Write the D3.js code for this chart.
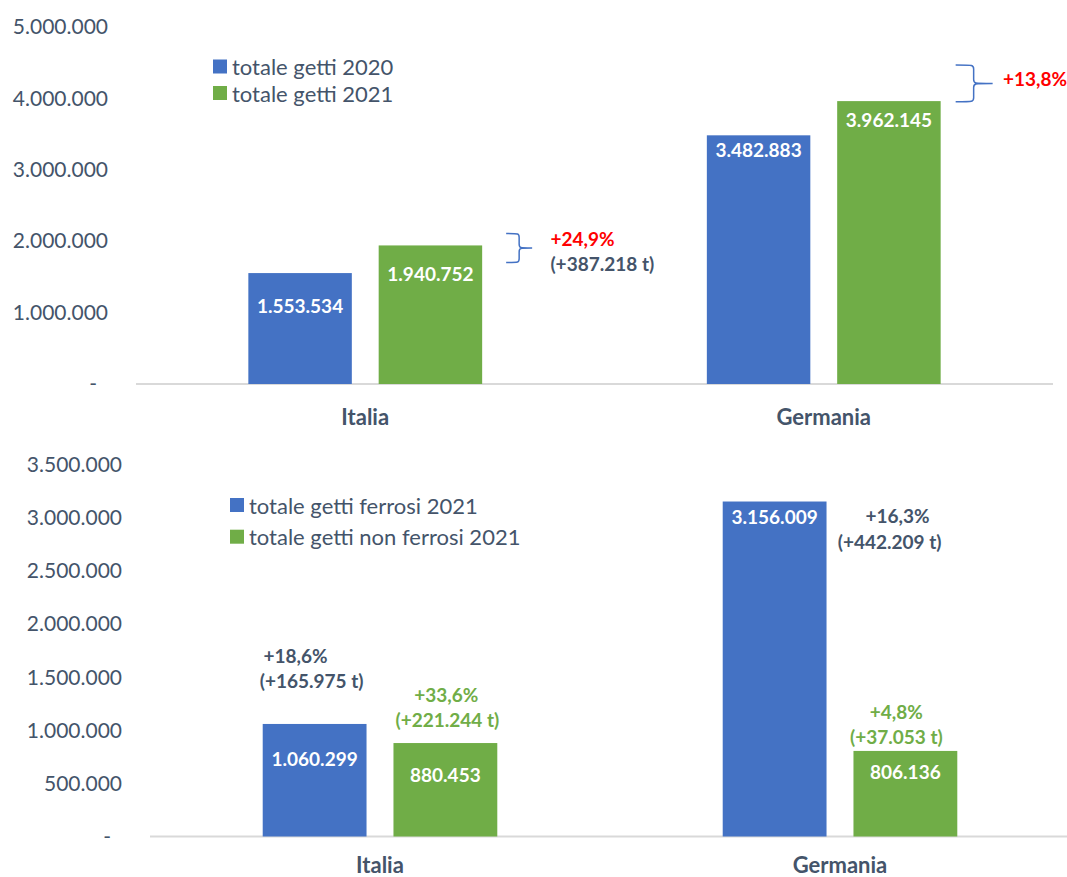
<!DOCTYPE html>
<html>
<head>
<meta charset="utf-8">
<script src="https://cdn.jsdelivr.net/npm/d3@7"></script>
<style>
  body { margin: 0; background: #fff; }
  svg { display: block; font-family: Lato, "Open Sans", sans-serif; }
</style>
</head>
<body>
<svg id="chart" width="1067" height="877"></svg>
<script>
// categories / series / values
var paesi = ["Italia", "Germania"];

var serieTop = ["totale getti 2020", "totale getti 2021"];
var getti2020 = [1553534, 3482883];
var getti2021 = [1940752, 3962145];

var serieBottom = ["totale getti ferrosi 2021", "totale getti non ferrosi 2021"];
var ferrosi2021 = [1060299, 3156009];
var nonFerrosi2021 = [880453, 806136];

var ticksTop = [0, 1000000, 2000000, 3000000, 4000000, 5000000];
var ticksBottom = [0, 500000, 1000000, 1500000, 2000000, 2500000, 3000000, 3500000];

var BLUE = "#4472C4", GREEN = "#70AD47", TEXT = "#44546A", RED = "#FF0000";
var colori = [BLUE, GREEN];

var locale = d3.formatLocale({ decimal: ",", thousands: ".", grouping: [3], currency: ["€", ""] });
var fmt = locale.format(",d");

var svg = d3.select("#chart");

function drawPanel(opt) {
  var g = svg.append("g");
  var x = d3.scaleBand().domain(paesi).range(opt.xRange);
  var xs = d3.scaleBand().domain([0, 1]).range([0, x.bandwidth()])
    .paddingInner(0.206).paddingOuter(0.862);
  var y = d3.scaleLinear().domain(opt.yDomain).range(opt.yRange);

  // y axis (no line, no ticks)
  var yAxis = d3.axisLeft(y).tickValues(opt.ticks).tickSize(0).tickPadding(28)
    .tickFormat(function (d) { return d === 0 ? "-" : fmt(d); });
  var ax = g.append("g")
    .attr("transform", "translate(" + opt.xRange[0] + ",0)")
    .call(yAxis);
  ax.select(".domain").remove();
  ax.selectAll("text")
    .attr("fill", TEXT)
    .style("font-size", "21px")
    .style("font-family", "Lato")
    .attr("dx", function (d) { return d === 0 ? -11 : 0; });

  // baseline
  g.append("line")
    .attr("x1", opt.xRange[0]).attr("x2", opt.xRange[1])
    .attr("y1", y(0)).attr("y2", y(0))
    .attr("stroke", "#D9D9D9").attr("stroke-width", 2);

  // bars
  var rows = [];
  paesi.forEach(function (p, i) {
    opt.values.forEach(function (serie, s) {
      rows.push({ p: p, i: i, s: s, v: serie[i] });
    });
  });

  function bx(d) { return x(d.p) + xs(d.s); }

  g.selectAll("rect.bar")
    .data(rows)
    .enter().append("rect")
    .attr("class", "bar")
    .attr("x", bx)
    .attr("width", xs.bandwidth())
    .attr("y", function (d) { return y(d.v); })
    .attr("height", function (d) { return y(0) - y(d.v); })
    .attr("fill", function (d) { return colori[d.s]; });

  // value labels inside bars
  g.selectAll("text.val")
    .data(rows)
    .enter().append("text")
    .attr("class", "val")
    .attr("x", function (d) { return bx(d) + xs.bandwidth() / 2; })
    .attr("y", function (d) { return y(d.v) + opt.labelDy[d.i][d.s]; })
    .attr("text-anchor", "middle")
    .attr("dominant-baseline", "central")
    .attr("fill", "#fff")
    .style("font-weight", "bold")
    .style("font-size", "19px")
    .text(function (d) { return fmt(d.v); });

  // category labels
  g.selectAll("text.cat")
    .data(paesi)
    .enter().append("text")
    .attr("class", "cat")
    .attr("x", function (d) { return x(d) + x.bandwidth() / 2; })
    .attr("y", y(0) + opt.catDy)
    .attr("text-anchor", "middle")
    .attr("dominant-baseline", "central")
    .attr("fill", TEXT)
    .style("font-weight", "bold")
    .style("font-size", "22px")
    .text(function (d) { return d; });

  // legend
  var leg = g.selectAll("g.leg")
    .data(opt.serie)
    .enter().append("g")
    .attr("class", "leg")
    .attr("transform", function (d, i) {
      return "translate(" + opt.legend.x + "," + (opt.legend.y + i * opt.legend.step) + ")";
    });
  leg.append("rect")
    .attr("x", 0).attr("y", -7).attr("width", 14).attr("height", 14)
    .attr("fill", function (d, i) { return colori[i]; });
  leg.append("text")
    .attr("x", 19)
    .attr("dominant-baseline", "central")
    .attr("fill", TEXT)
    .style("font-size", "22px")
    .text(function (d) { return d; });

  // annotations (text lines anchored on a bar)
  function barOf(a) {
    var d = rows.filter(function (r) { return r.i === a.i && r.s === a.s; })[0];
    return { cx: bx(d) + xs.bandwidth() / 2, top: y(d.v), right: bx(d) + xs.bandwidth() };
  }
  (opt.notes || []).forEach(function (a) {
    var b = barOf(a);
    a.lines.forEach(function (l) {
      g.append("text")
        .attr("x", b.cx + l.dx)
        .attr("y", b.top + l.dy)
        .attr("text-anchor", a.anchor)
        .attr("dominant-baseline", "central")
        .attr("fill", l.color)
        .style("font-weight", "bold")
        .style("font-size", "19px")
        .text(l.t);
    });
  });

  // curly brackets
  (opt.braces || []).forEach(function (a) {
    var b = barOf(a);
    var x0 = b.right + a.dx, x1 = x0 + a.w1, x2 = x0 + a.w2;
    var y0 = b.top + a.dy0, y1 = b.top + a.dy1, ym = (y0 + y1) / 2;
    var r = 4;
    var path = "M" + x0 + "," + y0 +
      " C" + x1 + "," + y0 + " " + x1 + "," + y0 + " " + x1 + "," + (y0 + r) +
      " L" + x1 + "," + (ym - r) +
      " C" + x1 + "," + ym + " " + x1 + "," + ym + " " + x2 + "," + ym +
      " M" + x2 + "," + ym +
      " C" + x1 + "," + ym + " " + x1 + "," + ym + " " + x1 + "," + (ym + r) +
      " L" + x1 + "," + (y1 - r) +
      " C" + x1 + "," + y1 + " " + x1 + "," + y1 + " " + x0 + "," + y1;
    g.append("path")
      .attr("d", path)
      .attr("fill", "none")
      .attr("stroke", BLUE)
      .attr("stroke-width", 1.5);
  });
}

// top panel: 2020 vs 2021
drawPanel({
  xRange: [136, 1053],
  yDomain: [0, 5000000],
  yRange: [384, 27],
  ticks: ticksTop,
  values: [getti2020, getti2021],
  serie: serieTop,
  labelDy: [[32, 28], [14, 18]],
  catDy: 32,
  legend: { x: 213, y: 66.5, step: 26.5 },
  notes: [
    { i: 0, s: 1, anchor: "start", lines: [
      { t: "+24,9%", dx: 120, dy: -6.5, color: RED },
      { t: "(+387.218 t)", dx: 120, dy: 18, color: TEXT }] },
    { i: 1, s: 1, anchor: "start", lines: [
      { t: "+13,8%", dx: 114, dy: -22.5, color: RED }] }
  ],
  braces: [
    { i: 0, s: 1, dx: 24, w1: 13, w2: 26, dy0: -12, dy1: 17 },
    { i: 1, s: 1, dx: 15, w1: 18, w2: 37, dy0: -36, dy1: 0.7 }
  ]
});

// bottom panel: ferrosi vs non ferrosi 2021
drawPanel({
  xRange: [150, 1070],
  yDomain: [0, 3500000],
  yRange: [836.5, 465],
  ticks: ticksBottom,
  values: [ferrosi2021, nonFerrosi2021],
  serie: serieBottom,
  labelDy: [[35, 31], [15, 21]],
  catDy: 28,
  legend: { x: 230, y: 505, step: 31.7 },
  notes: [
    { i: 0, s: 0, anchor: "middle", lines: [
      { t: "+18,6%", dx: -19, dy: -68, color: TEXT },
      { t: "(+165.975 t)", dx: -3, dy: -43.3, color: TEXT }] },
    { i: 0, s: 1, anchor: "middle", lines: [
      { t: "+33,6%", dx: 1, dy: -49, color: GREEN },
      { t: "(+221.244 t)", dx: 2, dy: -23.7, color: GREEN }] },
    { i: 1, s: 0, anchor: "middle", lines: [
      { t: "+16,3%", dx: 123, dy: 13.5, color: TEXT },
      { t: "(+442.209 t)", dx: 115, dy: 40.2, color: TEXT }] },
    { i: 1, s: 1, anchor: "middle", lines: [
      { t: "+4,8%", dx: -9, dy: -39.3, color: GREEN },
      { t: "(+37.053 t)", dx: -9, dy: -14.3, color: GREEN }] }
  ]
});
</script>
</body>
</html>
